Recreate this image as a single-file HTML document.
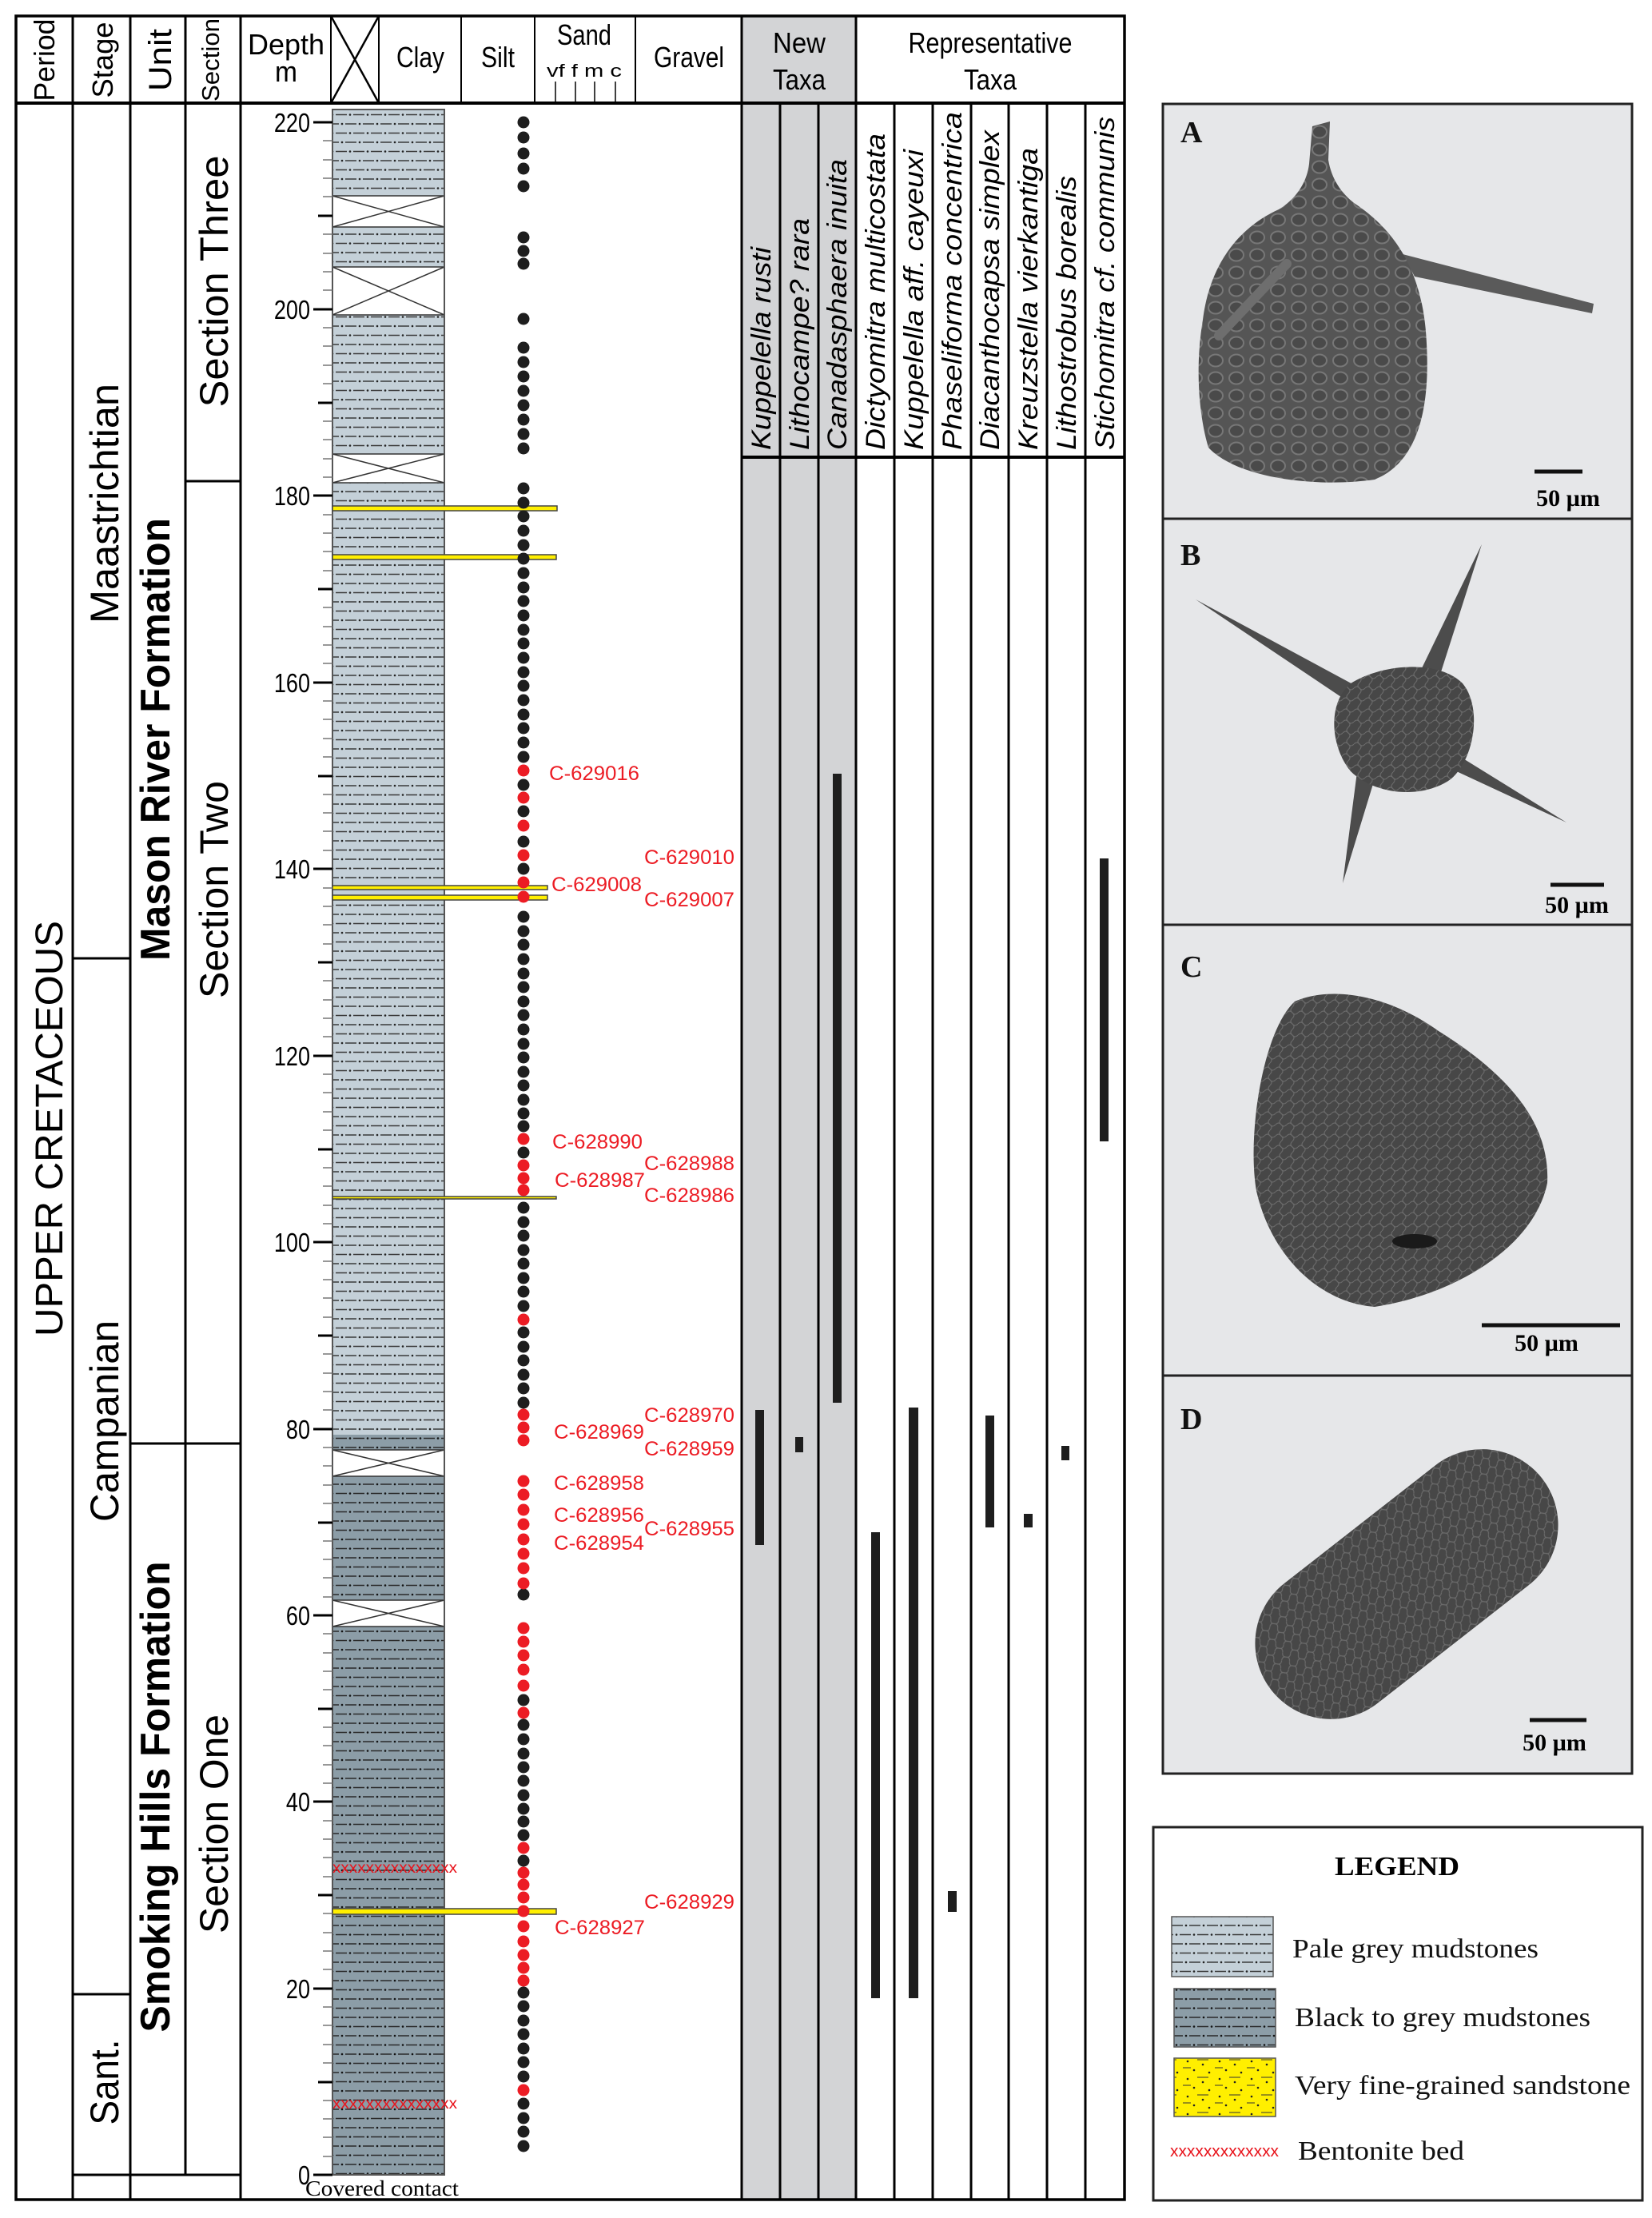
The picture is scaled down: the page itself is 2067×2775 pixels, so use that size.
<!DOCTYPE html>
<html><head><meta charset="utf-8"><style>
html,body{margin:0;padding:0;background:#fff;}
svg{display:block;}
.s{font-family:"Liberation Sans",sans-serif;}
.r{font-family:"Liberation Serif",serif;}
</style></head><body>
<svg width="2067" height="2775" viewBox="0 0 2067 2775" xmlns="http://www.w3.org/2000/svg">
<defs>
<pattern id="pale" width="44" height="23" patternUnits="userSpaceOnUse">
<rect width="44" height="23" fill="#c4d0d8"/>
<path d="M2 5.5h14M24 5.5h14M14 17h14M36 17h8M0 17h6" stroke="#3a3a3a" stroke-width="1.6"/>
<circle cx="20" cy="5.5" r="1.3" fill="#222"/><circle cx="42" cy="5.5" r="1.3" fill="#222"/><circle cx="10" cy="17" r="1.3" fill="#222"/><circle cx="32" cy="17" r="1.3" fill="#222"/>
</pattern>
<pattern id="dark" width="44" height="23" patternUnits="userSpaceOnUse">
<rect width="44" height="23" fill="#8c9da7"/>
<path d="M2 5.5h14M24 5.5h14M14 17h14M36 17h8M0 17h6" stroke="#2a2a2a" stroke-width="1.6"/>
<circle cx="20" cy="5.5" r="1.3" fill="#111"/><circle cx="42" cy="5.5" r="1.3" fill="#111"/><circle cx="10" cy="17" r="1.3" fill="#111"/><circle cx="32" cy="17" r="1.3" fill="#111"/>
</pattern>
<pattern id="sand" width="40" height="22" patternUnits="userSpaceOnUse">
<rect width="40" height="22" fill="#ffef00"/>
<circle cx="6" cy="5" r="1.3" fill="#222"/><circle cx="25" cy="9" r="1.3" fill="#222"/><circle cx="14" cy="16" r="1.3" fill="#222"/><circle cx="33" cy="19" r="1.3" fill="#222"/>
<path d="M18 3h14M0 13h10" stroke="#333" stroke-width="1"/>
</pattern>
<pattern id="cells" width="26" height="22" patternUnits="userSpaceOnUse">
<rect width="26" height="22" fill="#555"/>
<ellipse cx="13" cy="11" rx="9" ry="7.5" fill="#4a4a4a" stroke="#777" stroke-width="2"/>
</pattern>
<pattern id="rough" width="14" height="14" patternUnits="userSpaceOnUse">
<rect width="14" height="14" fill="#474747"/>
<path d="M0 7 Q4 3 7 7 T14 7 M7 0 Q3 4 7 7 T7 14" stroke="#6a6a6a" stroke-width="1.2" fill="none"/>
</pattern>
</defs>

<rect x="928" y="20" width="143" height="2732" fill="#d3d4d6"/>

<rect x="416" y="137" width="140" height="108" fill="url(#pale)"/>
<rect x="416" y="284" width="140" height="50" fill="url(#pale)"/>
<rect x="416" y="394" width="140" height="174" fill="url(#pale)"/>
<rect x="416" y="604" width="140" height="1191" fill="url(#pale)"/>
<rect x="416" y="1795" width="140" height="19" fill="url(#dark)"/>
<rect x="416" y="1847" width="140" height="155" fill="url(#dark)"/>
<rect x="416" y="2035" width="140" height="686" fill="url(#dark)"/>
<g fill="#fff" stroke="#333" stroke-width="1.5">
<rect x="416" y="245" width="140" height="39"/><rect x="416" y="334" width="140" height="60"/><rect x="416" y="568" width="140" height="36"/><rect x="416" y="1814" width="140" height="33"/><rect x="416" y="2002" width="140" height="33"/>
</g>
<path d="M416 245L556 284M556 245L416 284M416 334L556 394M556 334L416 394M416 568L556 604M556 568L416 604M416 1814L556 1847M556 1814L416 1847M416 2002L556 2035M556 2002L416 2035" stroke="#333" stroke-width="1.5"/>
<rect x="416" y="137" width="140" height="2584" fill="none" stroke="#555" stroke-width="2"/>

<g fill="#ffef00" stroke="#444" stroke-width="1.5">
<rect x="416" y="633" width="281" height="6"/><rect x="416" y="694" width="280" height="6"/>
<rect x="416" y="1108" width="269" height="5"/><rect x="416" y="1120" width="269" height="6"/>
<rect x="416" y="1497" width="280" height="3"/><rect x="416" y="2388" width="280" height="7"/>
</g>
<text x="416" y="2343" class="s" font-size="19" fill="#e8141c" textLength="156" lengthAdjust="spacingAndGlyphs">xxxxxxxxxxxxxxx</text>
<text x="416" y="2638" class="s" font-size="19" fill="#e8141c" textLength="156" lengthAdjust="spacingAndGlyphs">xxxxxxxxxxxxxxx</text>

<g stroke="#000" stroke-width="3">
<path d="M392 153h24M392 387h24M392 620h24M392 854h24M392 1087h24M392 1321h24M392 1554h24M392 1788h24M392 2021h24M392 2254h24M392 2488h24M392 2721h24"/>
<path d="M398 270h18M398 504h18M398 737h18M398 971h18M398 1204h18M398 1438h18M398 1671h18M398 1905h18M398 2138h18M398 2371h18M398 2605h18"/>
</g>
<path stroke="#777" stroke-width="1.5" d="M404 176h12M404 200h12M404 223h12M404 246h12M404 293h12M404 317h12M404 340h12M404 363h12M404 410h12M404 433h12M404 457h12M404 480h12M404 527h12M404 550h12M404 574h12M404 597h12M404 644h12M404 667h12M404 690h12M404 714h12M404 760h12M404 784h12M404 807h12M404 830h12M404 877h12M404 900h12M404 924h12M404 947h12M404 994h12M404 1017h12M404 1040h12M404 1064h12M404 1111h12M404 1134h12M404 1157h12M404 1181h12M404 1227h12M404 1251h12M404 1274h12M404 1297h12M404 1344h12M404 1367h12M404 1391h12M404 1414h12M404 1461h12M404 1484h12M404 1508h12M404 1531h12M404 1578h12M404 1601h12M404 1624h12M404 1648h12M404 1694h12M404 1718h12M404 1741h12M404 1764h12M404 1811h12M404 1834h12M404 1858h12M404 1881h12M404 1928h12M404 1951h12M404 1974h12M404 1998h12M404 2044h12M404 2068h12M404 2091h12M404 2114h12M404 2161h12M404 2184h12M404 2208h12M404 2231h12M404 2278h12M404 2301h12M404 2324h12M404 2348h12M404 2394h12M404 2418h12M404 2441h12M404 2464h12M404 2511h12M404 2534h12M404 2558h12M404 2581h12M404 2628h12M404 2651h12M404 2674h12M404 2698h12"/>
<g class="s" font-size="33" text-anchor="end">
<text x="388" y="165" transform="translate(388 0) scale(.82 1) translate(-388 0)">220</text>
<text x="388" y="632" transform="translate(388 0) scale(.82 1) translate(-388 0)">180</text>
<text x="388" y="399" transform="translate(388 0) scale(.82 1) translate(-388 0)">200</text>
<text x="388" y="866" transform="translate(388 0) scale(.82 1) translate(-388 0)">160</text>
<text x="388" y="1099" transform="translate(388 0) scale(.82 1) translate(-388 0)">140</text>
<text x="388" y="1333" transform="translate(388 0) scale(.82 1) translate(-388 0)">120</text>
<text x="388" y="1566" transform="translate(388 0) scale(.82 1) translate(-388 0)">100</text>
<text x="388" y="1800" transform="translate(388 0) scale(.82 1) translate(-388 0)">80</text>
<text x="388" y="2033" transform="translate(388 0) scale(.82 1) translate(-388 0)">60</text>
<text x="388" y="2266" transform="translate(388 0) scale(.82 1) translate(-388 0)">40</text>
<text x="388" y="2500" transform="translate(388 0) scale(.82 1) translate(-388 0)">20</text>
<text x="388" y="2733" transform="translate(388 0) scale(.82 1) translate(-388 0)">0</text>
</g>
<text x="382" y="2747" class="r" font-size="27" textLength="192" lengthAdjust="spacingAndGlyphs">Covered contact</text>

<g fill="#1e1e1e">
<circle cx="655" cy="153" r="7.5"/><circle cx="655" cy="172" r="7.5"/><circle cx="655" cy="192" r="7.5"/><circle cx="655" cy="211" r="7.5"/><circle cx="655" cy="233" r="7.5"/>
<circle cx="655" cy="297" r="7.5"/><circle cx="655" cy="314" r="7.5"/><circle cx="655" cy="330" r="7.5"/><circle cx="655" cy="399" r="7.5"/>
<circle cx="655" cy="435" r="7.5"/><circle cx="655" cy="453" r="7.5"/><circle cx="655" cy="471" r="7.5"/><circle cx="655" cy="489" r="7.5"/><circle cx="655" cy="507" r="7.5"/><circle cx="655" cy="525" r="7.5"/><circle cx="655" cy="543" r="7.5"/><circle cx="655" cy="561" r="7.5"/>
<circle cx="655" cy="611" r="7.5"/><circle cx="655" cy="629" r="7.5"/><circle cx="655" cy="646" r="7.5"/><circle cx="655" cy="664" r="7.5"/><circle cx="655" cy="682" r="7.5"/><circle cx="655" cy="699" r="7.5"/><circle cx="655" cy="717" r="7.5"/><circle cx="655" cy="735" r="7.5"/><circle cx="655" cy="752" r="7.5"/><circle cx="655" cy="770" r="7.5"/><circle cx="655" cy="788" r="7.5"/><circle cx="655" cy="805" r="7.5"/><circle cx="655" cy="823" r="7.5"/><circle cx="655" cy="841" r="7.5"/><circle cx="655" cy="858" r="7.5"/><circle cx="655" cy="876" r="7.5"/><circle cx="655" cy="894" r="7.5"/><circle cx="655" cy="911" r="7.5"/><circle cx="655" cy="929" r="7.5"/><circle cx="655" cy="947" r="7.5"/>
<circle cx="655" cy="982" r="7.5"/><circle cx="655" cy="1015" r="7.5"/><circle cx="655" cy="1053" r="7.5"/><circle cx="655" cy="1087" r="7.5"/>
<circle cx="655" cy="1147" r="7.5"/><circle cx="655" cy="1165" r="7.5"/><circle cx="655" cy="1182" r="7.5"/><circle cx="655" cy="1200" r="7.5"/><circle cx="655" cy="1218" r="7.5"/><circle cx="655" cy="1235" r="7.5"/><circle cx="655" cy="1253" r="7.5"/><circle cx="655" cy="1270" r="7.5"/><circle cx="655" cy="1288" r="7.5"/><circle cx="655" cy="1306" r="7.5"/><circle cx="655" cy="1323" r="7.5"/><circle cx="655" cy="1341" r="7.5"/><circle cx="655" cy="1358" r="7.5"/><circle cx="655" cy="1376" r="7.5"/><circle cx="655" cy="1393" r="7.5"/><circle cx="655" cy="1409" r="7.5"/>
<circle cx="655" cy="1442" r="7.5"/>
<circle cx="655" cy="1511" r="7.5"/><circle cx="655" cy="1529" r="7.5"/><circle cx="655" cy="1546" r="7.5"/><circle cx="655" cy="1564" r="7.5"/><circle cx="655" cy="1581" r="7.5"/><circle cx="655" cy="1599" r="7.5"/><circle cx="655" cy="1616" r="7.5"/><circle cx="655" cy="1634" r="7.5"/>
<circle cx="655" cy="1667" r="7.5"/><circle cx="655" cy="1685" r="7.5"/><circle cx="655" cy="1702" r="7.5"/><circle cx="655" cy="1720" r="7.5"/><circle cx="655" cy="1737" r="7.5"/><circle cx="655" cy="1755" r="7.5"/>
<circle cx="655" cy="1995" r="7.5"/><circle cx="655" cy="2127" r="7.5"/><circle cx="655" cy="2158" r="7.5"/>
<circle cx="655" cy="2176" r="7.5"/><circle cx="655" cy="2194" r="7.5"/><circle cx="655" cy="2211" r="7.5"/><circle cx="655" cy="2228" r="7.5"/><circle cx="655" cy="2246" r="7.5"/><circle cx="655" cy="2263" r="7.5"/><circle cx="655" cy="2279" r="7.5"/><circle cx="655" cy="2296" r="7.5"/><circle cx="655" cy="2328" r="7.5"/>
<circle cx="655" cy="2493" r="7.5"/><circle cx="655" cy="2510" r="7.5"/><circle cx="655" cy="2528" r="7.5"/><circle cx="655" cy="2545" r="7.5"/><circle cx="655" cy="2563" r="7.5"/><circle cx="655" cy="2580" r="7.5"/><circle cx="655" cy="2598" r="7.5"/>
<circle cx="655" cy="2632" r="7.5"/><circle cx="655" cy="2650" r="7.5"/><circle cx="655" cy="2667" r="7.5"/><circle cx="655" cy="2685" r="7.5"/>
</g>
<g fill="#ec1c24">
<circle cx="655" cy="964" r="7.5"/><circle cx="655" cy="998" r="7.5"/><circle cx="655" cy="1033" r="7.5"/><circle cx="655" cy="1070" r="7.5"/><circle cx="655" cy="1104" r="7.5"/><circle cx="655" cy="1122" r="7.5"/>
<circle cx="655" cy="1425" r="7.5"/><circle cx="655" cy="1458" r="7.5"/><circle cx="655" cy="1474" r="7.5"/><circle cx="655" cy="1489" r="7.5"/><circle cx="655" cy="1651" r="7.5"/>
<circle cx="655" cy="1770" r="7.5"/><circle cx="655" cy="1786" r="7.5"/><circle cx="655" cy="1802" r="7.5"/>
<circle cx="655" cy="1853" r="7.5"/><circle cx="655" cy="1870" r="7.5"/><circle cx="655" cy="1889" r="7.5"/><circle cx="655" cy="1907" r="7.5"/><circle cx="655" cy="1926" r="7.5"/><circle cx="655" cy="1944" r="7.5"/><circle cx="655" cy="1962" r="7.5"/><circle cx="655" cy="1981" r="7.5"/>
<circle cx="655" cy="2037" r="7.5"/><circle cx="655" cy="2054" r="7.5"/><circle cx="655" cy="2071" r="7.5"/><circle cx="655" cy="2089" r="7.5"/><circle cx="655" cy="2109" r="7.5"/><circle cx="655" cy="2143" r="7.5"/>
<circle cx="655" cy="2312" r="7.5"/><circle cx="655" cy="2343" r="7.5"/><circle cx="655" cy="2358" r="7.5"/><circle cx="655" cy="2374" r="7.5"/><circle cx="655" cy="2391" r="7.5"/><circle cx="655" cy="2410" r="7.5"/><circle cx="655" cy="2429" r="7.5"/><circle cx="655" cy="2446" r="7.5"/><circle cx="655" cy="2462" r="7.5"/><circle cx="655" cy="2478" r="7.5"/><circle cx="655" cy="2615" r="7.5"/>
</g>

<g class="s" font-size="25" fill="#ec1c24">
<text x="687" y="976" textLength="113" lengthAdjust="spacingAndGlyphs">C-629016</text>
<text x="806" y="1081" textLength="113" lengthAdjust="spacingAndGlyphs">C-629010</text>
<text x="690" y="1115" textLength="113" lengthAdjust="spacingAndGlyphs">C-629008</text>
<text x="806" y="1134" textLength="113" lengthAdjust="spacingAndGlyphs">C-629007</text>
<text x="691" y="1437" textLength="113" lengthAdjust="spacingAndGlyphs">C-628990</text>
<text x="806" y="1464" textLength="113" lengthAdjust="spacingAndGlyphs">C-628988</text>
<text x="694" y="1485" textLength="113" lengthAdjust="spacingAndGlyphs">C-628987</text>
<text x="806" y="1504" textLength="113" lengthAdjust="spacingAndGlyphs">C-628986</text>
<text x="806" y="1779" textLength="113" lengthAdjust="spacingAndGlyphs">C-628970</text>
<text x="693" y="1800" textLength="113" lengthAdjust="spacingAndGlyphs">C-628969</text>
<text x="806" y="1821" textLength="113" lengthAdjust="spacingAndGlyphs">C-628959</text>
<text x="693" y="1864" textLength="113" lengthAdjust="spacingAndGlyphs">C-628958</text>
<text x="693" y="1904" textLength="113" lengthAdjust="spacingAndGlyphs">C-628956</text>
<text x="806" y="1921" textLength="113" lengthAdjust="spacingAndGlyphs">C-628955</text>
<text x="693" y="1939" textLength="113" lengthAdjust="spacingAndGlyphs">C-628954</text>
<text x="806" y="2388" textLength="113" lengthAdjust="spacingAndGlyphs">C-628929</text>
<text x="694" y="2420" textLength="113" lengthAdjust="spacingAndGlyphs">C-628927</text>
</g>

<g fill="#1e1e1e">
<rect x="945" y="1764" width="11" height="169"/>
<rect x="995" y="1798" width="10" height="19"/>
<rect x="1042" y="968" width="11" height="787"/>
<rect x="1090" y="1917" width="11" height="583"/>
<rect x="1137" y="1761" width="12" height="739"/>
<rect x="1186" y="2366" width="11" height="26"/>
<rect x="1233" y="1771" width="11" height="140"/>
<rect x="1281" y="1894" width="11" height="17"/>
<rect x="1328" y="1809" width="10" height="18"/>
<rect x="1376" y="1074" width="11" height="354"/>
</g>

<g stroke="#000" fill="none">
<rect x="20" y="20" width="1387" height="2732" stroke-width="3.5"/>
<path d="M20 129H1407" stroke-width="4"/>
<path d="M91 20V2752M163 20V2752M232 20V2721M301 20V2752M928 20V2752M1071 20V2752M1407 20V2752" stroke-width="3"/>
<path d="M414 20V129M474 20V129M577 20V129M669 20V129M795 20V129" stroke-width="2"/>
<path d="M414 20L474 129M474 20L414 129" stroke-width="2.5"/>
<path d="M695 102V128M720 102V128M744 102V128M770 102V128" stroke-width="1.5"/>
<path d="M976 129V2752M1024 129V2752M1119 129V2752M1167 129V2752M1215 129V2752M1262 129V2752M1310 129V2752M1358 129V2752" stroke-width="3"/>
<path d="M928 572H1407" stroke-width="4"/>
<path d="M91 1199H163M232 602H301M163 1806H301M91 2495H163M91 2721H301" stroke-width="3"/>
</g>

<g class="s" font-size="36" text-anchor="middle">
<text transform="translate(68 75) rotate(-90)" textLength="103" lengthAdjust="spacingAndGlyphs">Period</text>
<text transform="translate(141 75) rotate(-90)" textLength="95" lengthAdjust="spacingAndGlyphs">Stage</text>
<text transform="translate(214 75) rotate(-90)" font-size="40" textLength="78" lengthAdjust="spacingAndGlyphs">Unit</text>
<text transform="translate(274 75) rotate(-90)" font-size="31" textLength="104" lengthAdjust="spacingAndGlyphs">Section</text>
<text x="358" y="68" textLength="96" lengthAdjust="spacingAndGlyphs">Depth</text>
<text x="358" y="102" textLength="28" lengthAdjust="spacingAndGlyphs">m</text>
<text x="526" y="84" textLength="60" lengthAdjust="spacingAndGlyphs">Clay</text>
<text x="623" y="84" textLength="42" lengthAdjust="spacingAndGlyphs">Silt</text>
<text x="731" y="56" textLength="68" lengthAdjust="spacingAndGlyphs">Sand</text>
<text x="862" y="84" textLength="88" lengthAdjust="spacingAndGlyphs">Gravel</text>
<text x="1000" y="66" textLength="66" lengthAdjust="spacingAndGlyphs">New</text>
<text x="1000" y="112" textLength="66" lengthAdjust="spacingAndGlyphs">Taxa</text>
<text x="1239" y="66" textLength="205" lengthAdjust="spacingAndGlyphs">Representative</text>
<text x="1239" y="112" textLength="66" lengthAdjust="spacingAndGlyphs">Taxa</text>
</g>
<text x="684" y="96" class="s" font-size="22" textLength="94" lengthAdjust="spacingAndGlyphs">vf  f  m  c</text>

<g class="s" text-anchor="middle">
<text transform="translate(78 1412) rotate(-90)" font-size="48" textLength="520" lengthAdjust="spacingAndGlyphs">UPPER CRETACEOUS</text>
<text transform="translate(148 630) rotate(-90)" font-size="50" textLength="300" lengthAdjust="spacingAndGlyphs">Maastrichtian</text>
<text transform="translate(148 1778) rotate(-90)" font-size="50" textLength="252" lengthAdjust="spacingAndGlyphs">Campanian</text>
<text transform="translate(148 2605) rotate(-90)" font-size="50" textLength="107" lengthAdjust="spacingAndGlyphs">Sant.</text>
<text transform="translate(212 925) rotate(-90)" font-size="52" font-weight="bold" textLength="554" lengthAdjust="spacingAndGlyphs">Mason River Formation</text>
<text transform="translate(212 2248) rotate(-90)" font-size="52" font-weight="bold" textLength="589" lengthAdjust="spacingAndGlyphs">Smoking Hills Formation</text>
<text transform="translate(285 352) rotate(-90)" font-size="50" textLength="315" lengthAdjust="spacingAndGlyphs">Section Three</text>
<text transform="translate(285 1113) rotate(-90)" font-size="50" textLength="272" lengthAdjust="spacingAndGlyphs">Section Two</text>
<text transform="translate(285 2282) rotate(-90)" font-size="50" textLength="274" lengthAdjust="spacingAndGlyphs">Section One</text>
</g>

<g class="s" font-size="34" font-style="italic">
<text transform="translate(964 563) rotate(-90)" textLength="254" lengthAdjust="spacingAndGlyphs">Kuppelella rusti</text>
<text transform="translate(1012 563) rotate(-90)" textLength="290" lengthAdjust="spacingAndGlyphs">Lithocampe? rara</text>
<text transform="translate(1059 563) rotate(-90)" textLength="364" lengthAdjust="spacingAndGlyphs">Canadasphaera inuita</text>
<text transform="translate(1107 563) rotate(-90)" textLength="396" lengthAdjust="spacingAndGlyphs">Dictyomitra multicostata</text>
<text transform="translate(1155 563) rotate(-90)" textLength="376" lengthAdjust="spacingAndGlyphs">Kuppelella aff. cayeuxi</text>
<text transform="translate(1203 563) rotate(-90)" textLength="423" lengthAdjust="spacingAndGlyphs">Phaseliforma concentrica</text>
<text transform="translate(1250 563) rotate(-90)" textLength="400" lengthAdjust="spacingAndGlyphs">Diacanthocapsa simplex</text>
<text transform="translate(1298 563) rotate(-90)" textLength="378" lengthAdjust="spacingAndGlyphs">Kreuzstella vierkantiga</text>
<text transform="translate(1346 563) rotate(-90)" textLength="343" lengthAdjust="spacingAndGlyphs">Lithostrobus borealis</text>
<text transform="translate(1394 563) rotate(-90)" textLength="417" lengthAdjust="spacingAndGlyphs">Stichomitra cf. communis</text>
</g>

<rect x="1455" y="130" width="587" height="2089" fill="#e6e7e9" stroke="#222" stroke-width="3"/>
<path d="M1455 649H2042M1455 1157H2042M1455 1721H2042" stroke="#222" stroke-width="3"/>
<g class="r" font-weight="bold" font-size="38" fill="#111">
<text x="1477" y="178">A</text><text x="1477" y="707">B</text><text x="1477" y="1222">C</text><text x="1477" y="1788">D</text>
</g>
<!-- A -->
<path d="M1755 318 L1994 380 L1992 392 L1770 346 Z" fill="#5a5a5a"/>
<path d="M1600 262 C1560 280 1515 320 1505 400 C1495 460 1500 520 1512 560 C1550 600 1650 610 1720 600 C1770 580 1790 520 1785 430 C1782 360 1760 300 1700 258 C1680 245 1666 225 1662 200 L1664 152 L1642 158 L1638 205 C1635 230 1620 250 1600 262 Z" fill="url(#cells)"/>
<path d="M1525 420 L1610 330" stroke="#6e6e6e" stroke-width="12" stroke-linecap="round"/>
<path d="M1920 590h60" stroke="#111" stroke-width="5"/>
<text x="1962" y="633" class="r" font-weight="bold" font-size="30" text-anchor="middle">50 µm</text>
<!-- B -->
<g fill="#4c4c4c">
<path d="M1496 750 L1700 860 L1690 880 Z"/>
<path d="M1854 681 L1800 850 L1778 838 Z"/>
<path d="M1960 1029 L1790 950 L1800 930 Z"/>
<path d="M1680 1105 L1700 950 L1725 958 Z"/>
</g>
<path d="M1690 855 C1730 830 1800 825 1830 855 C1855 885 1845 950 1815 975 C1780 1000 1720 995 1690 965 C1665 935 1660 880 1690 855 Z" fill="url(#rough)"/>
<path d="M1940 1107h67" stroke="#111" stroke-width="5"/>
<text x="1973" y="1142" class="r" font-weight="bold" font-size="30" text-anchor="middle">50 µm</text>
<!-- C -->
<path d="M1620 1253 C1660 1235 1730 1240 1800 1290 C1880 1340 1940 1400 1936 1480 C1920 1560 1820 1620 1720 1635 C1650 1630 1590 1570 1572 1490 C1560 1420 1580 1290 1620 1253 Z" fill="url(#rough)"/>
<ellipse cx="1770" cy="1553" rx="28" ry="9" fill="#1a1a1a"/>
<path d="M1854 1658h173" stroke="#111" stroke-width="5"/>
<text x="1935" y="1690" class="r" font-weight="bold" font-size="30" text-anchor="middle">50 µm</text>
<!-- D -->
<rect x="-215" y="-95" width="430" height="190" rx="95" fill="url(#rough)" transform="translate(1760 1982) rotate(-38)"/>
<path d="M1914 2152h71" stroke="#111" stroke-width="5"/>
<text x="1945" y="2190" class="r" font-weight="bold" font-size="30" text-anchor="middle">50 µm</text>

<rect x="1443" y="2286" width="612" height="467" fill="#fff" stroke="#222" stroke-width="3"/>
<text x="1748" y="2346" class="r" font-weight="bold" font-size="34" text-anchor="middle" textLength="156" lengthAdjust="spacingAndGlyphs">LEGEND</text>
<rect x="1466" y="2398" width="127" height="75" fill="url(#pale)" stroke="#555" stroke-width="1.5"/>
<rect x="1469" y="2488" width="127" height="73" fill="url(#dark)" stroke="#555" stroke-width="1.5"/>
<rect x="1469" y="2575" width="127" height="73" fill="url(#sand)" stroke="#555" stroke-width="1.5"/>
<text x="1464" y="2698" class="s" font-size="20" fill="#e8141c" textLength="136" lengthAdjust="spacingAndGlyphs">xxxxxxxxxxxxx</text>
<g class="r" font-size="34" fill="#111">
<text x="1617" y="2449" textLength="308" lengthAdjust="spacingAndGlyphs">Pale grey mudstones</text>
<text x="1620" y="2535" textLength="370" lengthAdjust="spacingAndGlyphs">Black to grey mudstones</text>
<text x="1620" y="2620" textLength="420" lengthAdjust="spacingAndGlyphs">Very fine-grained sandstone</text>
<text x="1624" y="2702" textLength="208" lengthAdjust="spacingAndGlyphs">Bentonite bed</text>
</g>
</svg>
</body></html>
